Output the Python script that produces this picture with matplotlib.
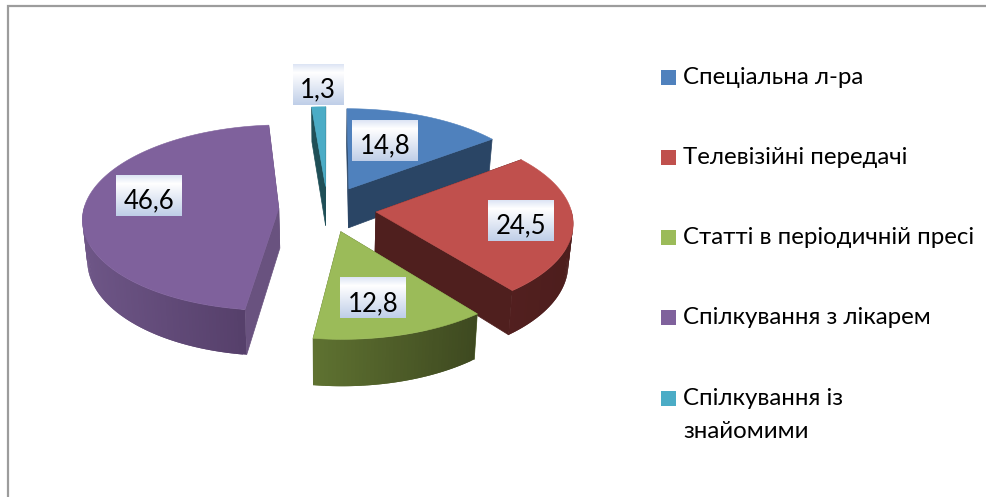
import numpy as np
import matplotlib
matplotlib.use("Agg")
import matplotlib.pyplot as plt
from matplotlib.patches import Polygon, Rectangle
from matplotlib.collections import PolyCollection
from matplotlib.colors import to_rgb

plt.rcParams['font.family'] = ['Lato', 'Open Sans', 'DejaVu Sans']

# data
categories = ["Спеціальна л-ра", "Телевізійні передачі", "Статті в періодичній пресі",
              "Спілкування з лікарем", "Спілкування із\nзнайомими"]
values = [14.8, 24.5, 12.8, 46.6, 1.3]
value_labels = ["14,8", "24,5", "12,8", "46,6", "1,3"]

# style
top_colors = ["#4F81BD", "#C0504D", "#9BBB59", "#7F619C", "#4BACC6"]
wall_colors = ["#2A4565", "#4F1F1E", "#5A6B30", "#69527F", "#1F4F57"]
arc_left = ["#2A4565", "#521F1F", "#5F7231", "#6E5687", "#1F4F57"]   # near-left end of outer wall
arc_right = ["#2A4565", "#4D1E1D", "#3E4920", "#523C66", "#1F4F57"]  # near-right end
lab_r = [0.59, 0.738, 0.675, 0.689, 1.29]
lab_da = [-6.0, 1.4, 3.0, 9.0, 0.3]
draw_order = [4, 0, 3, 1, 2]

# layout (projection of the 3-D pie onto the pixel frame)
W, H = 986, 497
XC, YC = 327.5, 209.0
RX, RY, KP = 195.0, 92.0, 0.10
EXPLODE = 0.25
DEPTH = 40.0
SHRINK = 0.98
FS_LEG = 17.3
FS_VAL = 18.5


def project(u, v, bottom=False):
    u, v = np.asarray(u, float), np.asarray(v, float)
    w = 1 + KP * v
    x, y = RX * u / w, -RY * v / w
    if bottom:
        return XC + x * SHRINK, YC + y + DEPTH / w ** 1.2
    return XC + x, YC + y


def disk(m, t, r):
    mr, tr = np.radians(m), np.radians(t)
    return EXPLODE * np.sin(mr) + r * np.sin(tr), EXPLODE * np.cos(mr) + r * np.cos(tr)


fig = plt.figure(figsize=(W / 100, H / 100), dpi=100, facecolor="white")
ax = fig.add_axes([0, 0, 1, 1])

edges = np.concatenate([[0], np.cumsum(values)]) / np.sum(values) * 360

for i in draw_order:
    a0, a1 = edges[i], edges[i + 1]
    mid = (a0 + a1) / 2
    ts = np.linspace(a0, a1, max(int(a1 - a0), 2) + 1)
    ux, vx = disk(mid, ts, 1.0)
    uc, vc = disk(mid, mid, 0.0)

    # radial walls
    for end_u, end_v in ((ux[0], vx[0]), (ux[-1], vx[-1])):
        xt, yt = project([uc, end_u], [vc, end_v])
        xb, yb = project([uc, end_u], [vc, end_v], bottom=True)
        ax.add_patch(Polygon(np.c_[np.r_[xt, xb[::-1]], np.r_[yt, yb[::-1]]],
                             fc=wall_colors[i], ec=wall_colors[i], lw=0.5, zorder=2))

    # outer wall, shaded from left to right
    xt, yt = project(ux, vx)
    xb, yb = project(ux, vx, bottom=True)
    c0, c1 = np.array(to_rgb(arc_left[i])), np.array(to_rgb(arc_right[i]))
    xmin, xmax = xt.min(), xt.max()
    for j in range(len(ts) - 1):
        if np.cos(np.radians((ts[j] + ts[j + 1]) / 2)) > 0.02:
            continue
        f = ((xt[j] + xt[j + 1]) / 2 - xmin) / max(xmax - xmin, 1)
        col = c0 + (c1 - c0) * f
        # each strip reaches into its neighbour so that no seams show
        k0, k1 = j, min(j + 2, len(ts) - 1)
        ax.add_patch(Polygon([(xt[k0], yt[k0]), (xt[k1], yt[k1]), (xb[k1], yb[k1]), (xb[k0], yb[k0])],
                             fc=col, ec="none", zorder=2))

    # top face
    xtop, ytop = project(np.r_[uc, ux], np.r_[vc, vx])
    ax.add_patch(Polygon(np.c_[xtop, ytop], fc=top_colors[i], ec=top_colors[i], lw=0.4, zorder=2))

# value labels on gradient boxes
stops = np.array([[0.87, 0.90, 0.96], [1, 1, 1], [0.75, 0.81, 0.91]])
grad = np.stack([np.interp(np.linspace(0, 1, 41), [0, 0.2, 1], stops[:, c]) for c in range(3)], axis=1)[:, None, :]
BH = 41
for i in range(len(values)):
    mid = (edges[i] + edges[i + 1]) / 2
    lu, lv = disk(mid, mid + lab_da[i], lab_r[i])
    lx, ly = project(lu, lv)
    bw = 15 * len(value_labels[i]) + 6
    ax.imshow(grad, extent=(lx - bw / 2, lx + bw / 2, ly - 2 + BH / 2, ly - 2 - BH / 2), aspect="auto",
              interpolation="bilinear", zorder=3)
    ax.text(lx, ly + 1, value_labels[i], ha="center", va="center_baseline", fontsize=FS_VAL, color="black", zorder=4)

# legend
LEG_X, LEG_Y, LEG_STEP, SW = 661, 77, 80.3, 15
for i, cat in enumerate(categories):
    yy = LEG_Y + i * LEG_STEP
    ax.add_patch(Rectangle((LEG_X, yy - SW / 2), SW, SW, fc=top_colors[i], ec="none", zorder=2))
    ax.text(LEG_X + 22, yy - 10.5, cat, ha="left", va="top", fontsize=FS_LEG, color="black",
            linespacing=1.7, zorder=4)

# frame
ax.plot([7.7, 7.7, 986], [497, 6, 6], color="#9C9C9C", lw=1.6, solid_joinstyle="miter", zorder=1)

ax.set_xlim(0, W)
ax.set_ylim(H, 0)
ax.axis("off")
fig.savefig("out.png", dpi=100, facecolor="white")
